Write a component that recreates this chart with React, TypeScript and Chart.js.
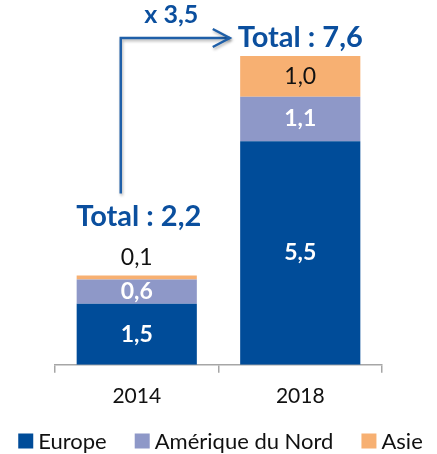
import React, { useEffect, useRef } from "react";
import { Chart, registerables } from "chart.js";

Chart.register(...registerables);

const categories = ["2014", "2018"];
const europe = [1.5, 5.5];
const ameriqueNord = [0.6, 1.1];
const asie = [0.1, 1.0];
const seriesNames = ["Europe", "Amérique du Nord", "Asie"];
const totals = [2.2, 7.6];
const ratioLabel = "x 3,5";

const COLORS = ["#004C99", "#8E98C8", "#F7B072"];
const BLUE_TEXT = "#0B4F9E";
const FONT = "Lato, 'Open Sans', sans-serif";

const fmt = (v: number) => v.toFixed(1).replace(".", ",");

const annotate = {
  id: "annotate",
  afterDatasetsDraw(chart: any) {
    const ctx = chart.ctx as CanvasRenderingContext2D;
    const metas = [0, 1, 2].map((i) => chart.getDatasetMeta(i));
    ctx.save();
    ctx.textAlign = "center";
    ctx.textBaseline = "middle";
    // segment labels
    metas.forEach((meta: any, di: number) => {
      meta.data.forEach((bar: any, ci: number) => {
        const v = chart.data.datasets[di].data[ci] as number;
        const top = bar.y;
        const bottom = bar.base;
        const h = bottom - top;
        if (di === 2) {
          ctx.font = `400 23px ${FONT}`;
          ctx.fillStyle = "#111";
          if (h < 26) {
            ctx.fillText(fmt(v), bar.x, top - 18);
          } else {
            ctx.fillText(fmt(v), bar.x, (top + bottom) / 2);
          }
        } else {
          ctx.font = `700 23px ${FONT}`;
          ctx.fillStyle = "#fff";
          ctx.fillText(fmt(v), bar.x, (top + bottom) / 2);
        }
      });
    });
    // totals
    ctx.font = `700 29px ${FONT}`;
    ctx.fillStyle = BLUE_TEXT;
    const topBar0 = metas[2].data[0];
    const topBar1 = metas[2].data[1];
    const small0 = topBar0.base - topBar0.y < 26;
    const t0y = topBar0.y - (small0 ? 59 : 19);
    const t1y = topBar1.y - 18;
    const t0 = "Total : " + fmt(totals[0]);
    const t1 = "Total : " + fmt(totals[1]);
    ctx.fillText(t0, topBar0.x + 2, t0y);
    ctx.fillText(t1, topBar1.x, t1y);
    const w1 = ctx.measureText(t1).width;
    // arrow
    const lx = topBar0.x - 16;
    const ly0 = t0y - 23;
    const tipX = topBar1.x - w1 / 2 - 8;
    ctx.shadowColor = "rgba(0,0,0,0.3)";
    ctx.shadowBlur = 3;
    ctx.shadowOffsetX = 1;
    ctx.shadowOffsetY = 2;
    ctx.strokeStyle = "#1F5FA8";
    ctx.lineWidth = 2.5;
    ctx.lineJoin = "miter";
    ctx.beginPath();
    ctx.moveTo(lx, ly0);
    ctx.lineTo(lx, t1y);
    ctx.lineTo(tipX, t1y);
    ctx.stroke();
    ctx.beginPath();
    ctx.moveTo(tipX - 17, t1y - 9);
    ctx.lineTo(tipX, t1y);
    ctx.lineTo(tipX - 17, t1y + 9);
    ctx.stroke();
    ctx.shadowColor = "transparent";
    ctx.font = `700 25px ${FONT}`;
    ctx.fillStyle = BLUE_TEXT;
    ctx.fillText(ratioLabel, (lx + tipX) / 2 - 4, t1y - 23);

    // legend
    ctx.font = `400 22px ${FONT}`;
    ctx.textAlign = "left";
    const box = 15;
    const gapText = 5;
    const gapItem = 28;
    const widths = seriesNames.map((n) => box + gapText + ctx.measureText(n).width);
    const total = widths.reduce((a, b) => a + b, 0) + gapItem * (seriesNames.length - 1);
    let x = (chart.width - total) / 2 + 2;
    const ly = 441;
    seriesNames.forEach((n, i) => {
      ctx.fillStyle = COLORS[i];
      ctx.fillRect(x, ly - box / 2, box, box);
      ctx.fillStyle = "#111";
      ctx.fillText(n, x + box + gapText, ly + 1);
      x += widths[i] + gapItem;
    });
    ctx.restore();
  },
};

export default function App() {
  const ref = useRef<HTMLCanvasElement>(null);
  useEffect(() => {
    const seriesData = [europe, ameriqueNord, asie];
    const chart = new Chart(ref.current!, {
      type: "bar",
      data: {
        labels: categories,
        datasets: seriesData.map((d, i) => ({
          label: seriesNames[i],
          data: d,
          backgroundColor: COLORS[i],
          borderWidth: 0,
          categoryPercentage: 1,
          barPercentage: 0.735,
        })),
      },
      options: {
        animation: false,
        responsive: false,
        maintainAspectRatio: false,
        layout: { padding: { left: 55, right: 55, top: 56, bottom: 34 } },
        scales: {
          x: {
            stacked: true,
            grid: {
              display: true,
              drawOnChartArea: false,
              tickLength: 8,
              color: "#A6A6A6",
              lineWidth: 1.5,
            },
            border: { display: true, color: "#A6A6A6", width: 1.5 },
            ticks: { color: "#111", font: { family: FONT, size: 21 }, padding: 11 },
          },
          y: { stacked: true, display: false, min: 0, max: 7.6 },
        },
        plugins: {
          tooltip: { enabled: false },
          legend: { display: false },
        },
      },
      plugins: [annotate],
    });
    return () => chart.destroy();
  }, []);
  return (
    <div style={{ position: "fixed", left: 0, top: 0, width: 437, height: 454 }}>
      <canvas ref={ref} width={437} height={454} style={{ width: 437, height: 454 }} />
    </div>
  );
}
